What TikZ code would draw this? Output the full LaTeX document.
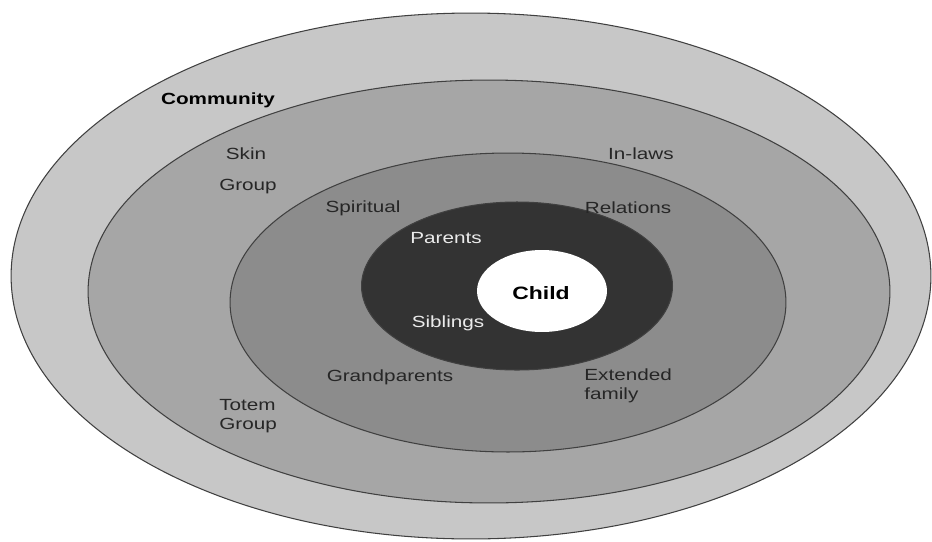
\documentclass[tikz,border=0pt]{standalone}
\usepackage{fontspec}
\usepackage{tikz}
\usetikzlibrary{shapes.geometric}
\newfontfamily\lblfont[FakeStretch=1.28]{Liberation Sans}
\definecolor{ringA}{gray}{0.78}
\definecolor{ringB}{gray}{0.65}
\definecolor{ringC}{gray}{0.55}
\definecolor{ringD}{gray}{0.20}
\tikzset{
  ring/.style={draw=black!75, line width=0.6pt, ellipse, inner sep=0pt},
  lbl/.style={font=\lblfont\fontsize{9.2}{11}\selectfont, text=black!85, inner sep=0pt},
  lblw/.style={lbl, text=white!92!black}
}

\begin{document}
\begin{tikzpicture}[x=0.02cm, y=-0.02cm]
				\fill[white] (0,0) rectangle (932,541);
				\useasboundingbox (0,0) rectangle (932,541);
				% rings, outside in
				\node[ring, fill=ringA, minimum width=18.40cm, minimum height=10.52cm] (community)at(471, 276) {};
				\node[ring, fill=ringB, minimum width=16.04cm, minimum height=8.46cm] (kin)at(489, 291.5) {};
				\node[ring, fill=ringC, minimum width=11.12cm, minimum height=5.98cm] (family)at(508, 302.5) {};
				\node[ring, fill=ringD, minimum width=6.22cm, minimum height=3.36cm] (home)at(517, 286) {};
				\node[ring, draw=none, fill=white, minimum width=2.60cm, minimum height=1.64cm] (child)at(542, 291) {};
				% labels
				\node[lbl, font=\lblfont\bfseries\fontsize{9.2}{11}\selectfont, text=black] (lcom)at(218, 100) {Community};
				\node[lbl] (lskin)at(246, 154) {Skin};
				\node[lbl] (lgroup)at(248, 187) {Group};
				\node[lbl, anchor=west, align=left] (ltotem)at(219, 416) {Totem\\Group};
				\node[lbl] (linlaws)at(641, 154) {In-laws};
				\node[lbl] (lspirit)at(363, 208) {Spiritual};
				\node[lbl] (lrel)at(628, 208) {Relations};
				\node[lbl] (lgrand)at(390, 377) {Grandparents};
				\node[lbl, anchor=west, align=left] (lext)at(584, 386) {Extended\\family};
				\node[lblw] (lpar)at(446, 238) {Parents};
				\node[lblw] (lsib)at(448, 323) {Siblings};
				\node[lbl, font=\lblfont\bfseries\fontsize{10.2}{12}\selectfont, text=black] (lchild)at(541, 293) {Child};
			\end{tikzpicture}
\end{document}
